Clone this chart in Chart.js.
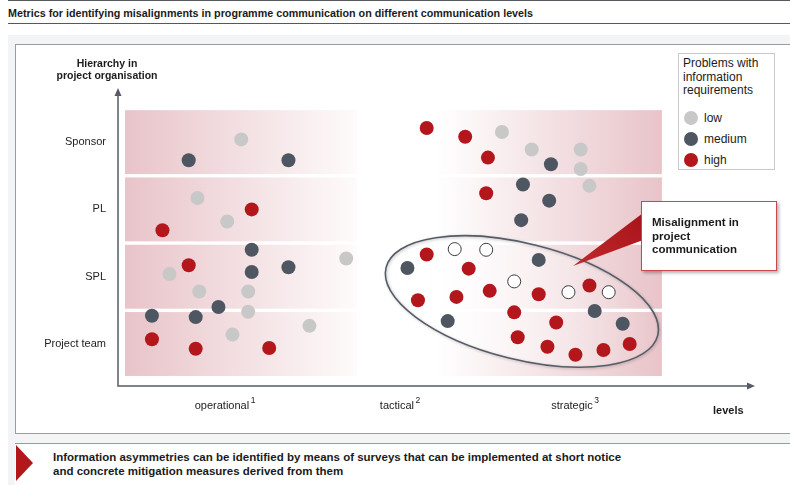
<!DOCTYPE html>
<html lang="en">
<head>
<meta charset="utf-8">
<title>Misalignments in programme communication</title>
<script src="https://cdn.jsdelivr.net/npm/chart.js@4.4.1/dist/chart.umd.min.js"></script>
<style>
  body { margin: 0; width: 790px; height: 485px; position: relative; overflow: hidden; background: #fff;
         font-family: "Liberation Sans", Arial, sans-serif; color: #1b1b1b; }
  .abs { position: absolute; }
  .rule { left: 8px; right: 0; height: 1px; background: #55595f; }
  #title { left: 8px; top: 7px; font-size: 10.75px; font-weight: bold; white-space: nowrap; }
  #panel { left: 8px; top: 35px; right: 0; bottom: 0; background: #f3f4f6; }
  #inner { left: 15px; top: 44px; width: 790px; height: 388px; background: #fff; border: 1px solid #9c9c9c; }
  #footer { left: 15px; top: 443px; width: 790px; height: 50px; background: #fff; border-top: 1.5px solid #e07c7c; }
  #footArrow { left: 16px; top: 445px; width: 0; height: 0; border-top: 18.5px solid transparent;
               border-bottom: 18.5px solid transparent; border-left: 17px solid #b3171c; }
  #footText { left: 53px; top: 450px; font-size: 11.5px; font-weight: bold; line-height: 14px; white-space: nowrap; }
  #chartBox { left: 0; top: 0; width: 790px; height: 485px; }
  #yTitle { left: 46px; top: 57px; width: 122px; text-align: center; font-size: 10.5px; font-weight: bold; line-height: 12px; }
  #xTitle { left: 713px; top: 404px; font-size: 11px; font-weight: bold; }
  #legend { left: 678px; top: 53px; width: 97px; height: 117px; border: 1px solid #c9c9c9; background: #fff;
            font-size: 12px; line-height: 13.5px; box-sizing: border-box; padding: 3px 0 0 4px; }
  #legend .item { position: absolute; left: 5px; height: 16px; line-height: 16px; }
  #legend .dot { display: inline-block; width: 14px; height: 14px; border-radius: 50%; vertical-align: -3px; margin-right: 6px; }
  #pointer { left: 0; top: 0; }
  #callout { left: 641px; top: 201px; width: 136px; height: 70px; box-sizing: border-box; background: #fff;
             border: 1px solid #c9494a; box-shadow: 2px 2px 3px rgba(0,0,0,0.3);
             font-size: 11.5px; font-weight: bold; line-height: 13.7px; padding: 14px 0 0 10px; }
</style>
</head>
<body>
<div class="abs rule" style="top:0"></div>
<div class="abs" id="title">Metrics for identifying misalignments in programme communication on different communication levels</div>
<div class="abs rule" style="top:23px"></div>
<div class="abs" id="panel"></div>
<div class="abs" id="inner"></div>
<div class="abs" id="footer"></div>
<div class="abs" id="footArrow"></div>
<div class="abs" id="footText">Information asymmetries can be identified by means of surveys that can be implemented at short notice<br>and concrete mitigation measures derived from them</div>

<div class="abs" id="chartBox"><canvas id="chartMisalign" width="790" height="485"></canvas></div>

<div class="abs" id="yTitle">Hierarchy in<br>project organisation</div>
<div class="abs" id="xTitle">levels</div>

<div class="abs" id="legend">
  Problems with<br>information<br>requirements
  <div class="item" style="top:56px"><span class="dot" style="background:#c8c8c8"></span>low</div>
  <div class="item" style="top:77px"><span class="dot" style="background:#4e5661"></span>medium</div>
  <div class="item" style="top:98px"><span class="dot" style="background:#b3171c"></span>high</div>
</div>

<svg class="abs" id="pointer" width="790" height="485">
  <defs>
    <linearGradient id="redFade" x1="0" y1="1" x2="1" y2="0">
      <stop offset="0" stop-color="#c0282c"/>
      <stop offset="1" stop-color="#a8141a"/>
    </linearGradient>
  </defs>
  <polygon points="573,266 643,213 643,240" fill="url(#redFade)"/>
</svg>
<div class="abs" id="callout">Misalignment in<br>project<br>communication</div>

<script>
// Axis categories
const hierarchy = ["Project team", "SPL", "PL", "Sponsor"];   // y = 1..4
const levels = ["operational", "tactical", "strategic"];      // x = 1..3
const levelNotes = ["1", "2", "3"];                           // footnote marks

// Survey answers as [communication level, hierarchy level]
const lowPts = [
    [1.11, 4.04], [0.86, 3.17], [1.03, 2.82], [0.70, 2.04], [1.71, 2.27],
    [0.87, 1.78], [1.15, 1.78], [1.15, 1.48], [1.50, 1.27], [1.06, 1.14],
    [2.60, 4.15], [2.77, 3.89], [3.05, 3.89], [3.05, 3.60], [3.10, 3.35]
];
const mediumPts = [
    [0.81, 3.73], [1.38, 3.73], [1.17, 2.40], [1.17, 2.07], [1.38, 2.14],
    [0.98, 1.55], [0.60, 1.42], [0.85, 1.40],
    [2.88, 3.67], [2.72, 3.37], [2.87, 3.13], [2.71, 2.84], [2.06, 2.13],
    [2.81, 2.25], [2.29, 1.34], [3.13, 1.49], [3.29, 1.30]
];
const highPts = [
    [1.17, 3.00], [0.66, 2.69], [0.81, 2.17], [0.60, 1.07], [0.85, 0.93], [1.27, 0.94],
    [2.17, 4.21], [2.39, 4.08], [2.52, 3.77], [2.51, 3.24], [2.17, 2.33], [2.41, 2.12],
    [2.12, 1.65], [2.34, 1.70], [2.53, 1.79], [2.81, 1.74], [3.10, 1.87], [2.67, 1.47],
    [2.91, 1.32], [2.69, 1.10], [2.86, 0.96], [3.02, 0.84], [3.18, 0.91], [3.33, 1.00]
];
// not yet answered
const openPts = [
    [2.33, 2.41], [2.51, 2.40], [2.67, 1.93], [2.98, 1.77], [3.21, 1.77]
];

// Background blocks behind each hierarchy row (x ranges in level units)
const leftBlock = [0.446, 1.771];
const rightBlock = [2.229, 3.514];
const rowHalf = 0.475;
// Misalignment ellipse: centre in data units, radii in px
const ring = { x: 2.714, y: 1.632, rx: 140, ry: 58, tilt: 14 };

const AXIS = '#555c66';
const PINK = '#e8c4c9';
const TICK_FONT = { family: 'Liberation Sans', size: 11 };
const TICK_PAD = 13;

const toXY = pts => pts.map(p => ({ x: p[0], y: p[1] }));

const backdrop = {
    id: 'backdrop',
    beforeDatasetsDraw(chart) {
        const { ctx, chartArea: ca, scales: { x, y } } = chart;
        ctx.save();

        // pink rows, fading towards the middle
        hierarchy.forEach((_, i) => {
            const top = y.getPixelForValue(i + 1 + rowHalf);
            const bot = y.getPixelForValue(i + 1 - rowHalf);

            let x0 = x.getPixelForValue(leftBlock[0]);
            let x1 = x.getPixelForValue(leftBlock[1]);
            let g = ctx.createLinearGradient(x0, 0, x1, 0);
            g.addColorStop(0, PINK);
            g.addColorStop(1, '#fefbfb');
            ctx.fillStyle = g;
            ctx.fillRect(x0, top, x1 - x0, bot - top);

            x0 = x.getPixelForValue(rightBlock[0]);
            x1 = x.getPixelForValue(rightBlock[1]);
            g = ctx.createLinearGradient(x0, 0, x1, 0);
            g.addColorStop(0, '#ffffff');
            g.addColorStop(1, PINK);
            ctx.fillStyle = g;
            ctx.fillRect(x0, top, x1 - x0, bot - top);
        });

        // ellipse round the strategic cluster
        const cx = x.getPixelForValue(ring.x);
        const cy = y.getPixelForValue(ring.y);
        ctx.beginPath();
        ctx.ellipse(cx, cy, ring.rx, ring.ry, ring.tilt * Math.PI / 180, 0, Math.PI * 2);
        const fill = ctx.createLinearGradient(cx - ring.rx, 0, cx + ring.rx, 0);
        fill.addColorStop(0, 'rgba(255,255,255,0.95)');
        fill.addColorStop(0.6, 'rgba(255,255,255,0.35)');
        fill.addColorStop(1, 'rgba(255,255,255,0)');
        ctx.fillStyle = fill;
        ctx.fill();
        ctx.shadowColor = 'rgba(0,0,0,0.25)';
        ctx.shadowBlur = 3;
        ctx.shadowOffsetX = 1;
        ctx.shadowOffsetY = 1;
        ctx.strokeStyle = AXIS;
        ctx.lineWidth = 1.6;
        ctx.stroke();
        ctx.shadowColor = 'transparent';

        // axes with arrow heads
        ctx.strokeStyle = AXIS;
        ctx.fillStyle = AXIS;
        ctx.lineWidth = 1.5;
        ctx.beginPath();
        ctx.moveTo(ca.left, ca.top + 6);
        ctx.lineTo(ca.left, ca.bottom);
        ctx.lineTo(ca.right - 6, ca.bottom);
        ctx.stroke();
        ctx.beginPath();
        ctx.moveTo(ca.left, ca.top);
        ctx.lineTo(ca.left - 3.5, ca.top + 8);
        ctx.lineTo(ca.left + 3.5, ca.top + 8);
        ctx.closePath();
        ctx.fill();
        ctx.beginPath();
        ctx.moveTo(ca.right, ca.bottom);
        ctx.lineTo(ca.right - 8, ca.bottom - 3.5);
        ctx.lineTo(ca.right - 8, ca.bottom + 3.5);
        ctx.closePath();
        ctx.fill();

        ctx.restore();
    },
    // footnote numbers after the level names
    afterDraw(chart) {
        const { ctx, chartArea: ca, scales: { x } } = chart;
        ctx.save();
        levels.forEach((name, i) => {
            ctx.font = `${TICK_FONT.size}px "${TICK_FONT.family}"`;
            const w = ctx.measureText(name).width;
            const px = x.getPixelForValue(i + 1) + w / 2 + 1.5;
            ctx.font = `8.5px "${TICK_FONT.family}"`;
            ctx.fillStyle = '#222';
            ctx.textAlign = 'left';
            ctx.textBaseline = 'top';
            ctx.fillText(levelNotes[i], px, ca.bottom + TICK_PAD - 2.5);
        });
        ctx.restore();
    }
};

const dot = (label, data, color) => ({
    label: label,
    data: toXY(data),
    backgroundColor: color,
    borderWidth: 0,
    pointRadius: 7,
    pointHoverRadius: 7
});

new Chart(document.getElementById('chartMisalign'), {
    type: 'scatter',
    data: {
        datasets: [
            dot('low', lowPts, '#c8c8c8'),
            dot('medium', mediumPts, '#4e5661'),
            dot('high', highPts, '#b3171c'),
            {
                label: 'open',
                data: toXY(openPts),
                backgroundColor: '#ffffff',
                borderColor: '#3a3d42',
                borderWidth: 1,
                pointRadius: 6.5,
                pointHoverRadius: 6.5
            }
        ]
    },
    options: {
        responsive: false,
        animation: false,
        events: [],
        layout: { padding: { top: 88, right: 35, left: 0, bottom: 0 } },
        plugins: { legend: { display: false }, tooltip: { enabled: false } },
        scales: {
            x: {
                type: 'linear',
                min: 0.406,
                max: 4.046,
                grid: { display: false, drawTicks: false },
                border: { display: false },
                afterBuildTicks: s => { s.ticks = levels.map((_, i) => ({ value: i + 1 })); },
                afterFit: s => { s.height = 99; },
                ticks: {
                    padding: TICK_PAD,
                    maxRotation: 0,
                    color: '#222',
                    font: TICK_FONT,
                    callback: v => levels[v - 1]
                }
            },
            y: {
                type: 'linear',
                min: 0.376,
                max: 4.804,
                grid: { display: false, drawTicks: false },
                border: { display: false },
                afterBuildTicks: s => { s.ticks = hierarchy.map((_, i) => ({ value: i + 1 })); },
                afterFit: s => { s.width = 118; },
                ticks: {
                    padding: 12,
                    color: '#222',
                    font: TICK_FONT,
                    callback: v => hierarchy[v - 1]
                }
            }
        }
    },
    plugins: [backdrop]
});
</script>
</body>
</html>
